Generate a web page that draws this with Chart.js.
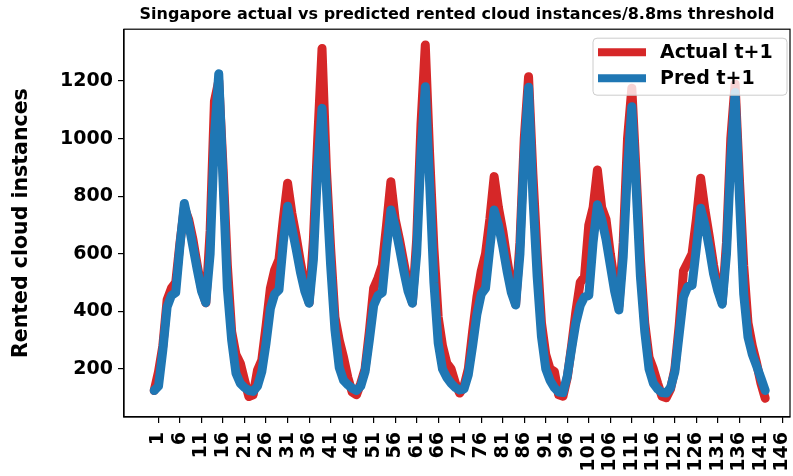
<!DOCTYPE html>
<html>
<head>
<meta charset="utf-8">
<script src="https://cdn.jsdelivr.net/npm/chart.js@4.4.1/dist/chart.umd.min.js"></script>
<style>
  html, body { margin: 0; padding: 0; background: #fff; }
  canvas { display: block; }
</style>
</head>
<body>
<canvas id="mychart" width="793" height="476"></canvas>
<script>
// hourly values, 143 steps (0..142)
const actual = [
    125, 190, 280, 440, 480, 500, 640, 760, 720, 650, 560, 480, 430, 680, 1130, 1200, 900, 560, 330, 250, 220, 160, 104, 110,
    195, 230, 350, 480, 544, 580, 720, 845, 740, 660, 570, 490, 430, 650, 1000, 1313, 900, 620, 380, 300, 240, 170, 120, 110,
    150, 200, 330, 480, 515, 560, 700, 850, 720, 650, 570, 490, 430, 650, 1050, 1325, 950, 620, 380, 280, 220, 200, 150, 116,
    140, 200, 330, 450, 540, 600, 720, 868, 760, 680, 580, 490, 425, 640, 1000, 1215, 880, 600, 360, 250, 200, 191, 110, 105,
    170, 280, 400, 500, 520, 700, 760, 891, 760, 720, 600, 500, 420, 640, 1000, 1175, 880, 580, 360, 240, 200, 150, 105, 100,
    130, 200, 350, 540, 570, 600, 720, 862, 752, 660, 560, 480, 430, 640, 1000, 1190, 860, 560, 360, 280, 220, 150, 98
];
const pred = [
    125, 140, 265, 415, 455, 465, 630, 775, 705, 625, 545, 470, 430, 600, 1010, 1225, 850, 480, 300, 185, 150, 135, 125, 122,
    140, 190, 290, 410, 460, 475, 640, 765, 690, 615, 535, 470, 428, 580, 900, 1105, 835, 560, 336, 205, 160, 145, 133, 125,
    140, 190, 300, 420, 455, 465, 620, 752, 695, 620, 540, 470, 428, 600, 950, 1180, 850, 500, 290, 200, 170, 150, 135, 127,
    130, 180, 280, 390, 460, 480, 620, 752, 700, 625, 540, 465, 422, 600, 950, 1178, 800, 520, 312, 200, 160, 135, 120, 118,
    175, 270, 360, 420, 450, 455, 640, 770, 720, 650, 560, 470, 405, 590, 900, 1111, 830, 520, 330, 200, 150, 130, 118, 116,
    135, 190, 320, 450, 486, 490, 620, 758, 700, 620, 530, 470, 425, 600, 930, 1160, 800, 460, 310, 250, 210, 168, 125
];
const xTickLabels = [1, 6, 11, 16, 21, 26, 31, 36, 41, 46, 51, 56, 61, 66, 71, 76, 81, 86, 91, 96,
    101, 106, 111, 116, 121, 126, 131, 136, 141, 146];
const yTickValues = [200, 400, 600, 800, 1000, 1200];

const ctx = document.getElementById('mychart');
Chart.defaults.font.family = "'DejaVu Sans', sans-serif";
Chart.defaults.color = '#000';

const toPoints = (arr) => arr.map((v, i) => ({ x: i, y: v }));

// top/right spines + legend box inside the plot, matplotlib style
const pluginFrameLegend = {
    id: 'frameLegend',
    afterDatasetsDraw: (chart) => {
        const c = chart.ctx;
        const a = chart.chartArea;
        c.save();
        c.strokeStyle = '#000';
        c.lineWidth = 1.2;
        c.strokeRect(a.left, a.top, a.right - a.left, a.bottom - a.top);
        c.restore();
    },
    afterDraw: (chart) => {
        const c = chart.ctx;
        const a = chart.chartArea;
        const boxW = 194, boxH = 57;
        const bx = a.right - 3 - boxW, by = a.top + 9;
        c.save();
        c.beginPath();
        c.roundRect(bx, by, boxW, boxH, 4);
        c.fillStyle = 'rgba(255,255,255,0.8)';
        c.fill();
        c.strokeStyle = '#cccccc';
        c.lineWidth = 1;
        c.stroke();
        c.font = "bold 19px 'DejaVu Sans'";
        c.textBaseline = 'middle';
        chart.data.datasets.forEach((ds, i) => {
            const y = by + 14 + i * 26;
            c.beginPath();
            c.moveTo(bx + 5, y);
            c.lineTo(bx + 53, y);
            c.strokeStyle = ds.borderColor;
            c.lineWidth = 8;
            c.lineCap = 'butt';
            c.stroke();
            c.fillStyle = '#000';
            c.fillText(ds.label, bx + 67, y + 1);
        });
        c.restore();
    }
};

var chart = new Chart(ctx, {
    type: 'line',
    data: {
        datasets: [{
            label: 'Actual t+1',
            data: toPoints(actual),
            borderColor: '#d62728',
            borderWidth: 9,
            order: 2
        }, {
            label: 'Pred t+1',
            data: toPoints(pred),
            borderColor: '#1f77b4',
            borderWidth: 9,
            order: 1
        }]
    },
    options: {
        responsive: false,
        animation: false,
        devicePixelRatio: 1,
        layout: { padding: { left: 0, right: 3, top: 0, bottom: 0 } },
        elements: {
            point: { radius: 0 },
            line: { tension: 0, borderJoinStyle: 'round', borderCapStyle: 'round', fill: false }
        },
        scales: {
            x: {
                type: 'linear',
                min: -7.02,
                max: 147.76,
                afterBuildTicks: (scale) => {
                    scale.ticks = xTickLabels.map(v => ({ value: v }));
                },
                afterFit: (scale) => {
                    scale.height = 59;
                    scale.paddingLeft = 0;
                    scale.paddingRight = 0;
                },
                ticks: {
                    autoSkip: false,
                    maxRotation: 90,
                    minRotation: 90,
                    padding: 9,
                    font: { size: 19, weight: 'bold' },
                    callback: (v) => String(v)
                },
                grid: { drawOnChartArea: false, drawTicks: true, tickLength: 6, color: '#000', lineWidth: 1.2 },
                border: { display: true, color: '#000', width: 1.2 }
            },
            y: {
                type: 'linear',
                min: 33,
                max: 1380,
                afterBuildTicks: (scale) => {
                    scale.ticks = yTickValues.map(v => ({ value: v }));
                },
                afterFit: (scale) => {
                    scale.width = 124;
                    scale.paddingTop = 0;
                    scale.paddingBottom = 0;
                },
                ticks: {
                    padding: 5,
                    font: { size: 19, weight: 'bold' },
                    callback: (v) => String(v)
                },
                grid: { drawOnChartArea: false, drawTicks: true, tickLength: 6, color: '#000', lineWidth: 1.2 },
                border: { display: true, color: '#000', width: 1.2 },
                title: {
                    display: true,
                    text: 'Rented cloud instances',
                    font: { size: 20.5, weight: 'bold' },
                    padding: { top: 9, bottom: 0 }
                }
            }
        },
        plugins: {
            legend: { display: false },
            tooltip: { enabled: false },
            title: {
                display: true,
                fullSize: false,
                text: 'Singapore actual vs predicted rented cloud instances/8.8ms threshold',
                font: { size: 16, weight: 'bold' },
                padding: { top: 5, bottom: 5 }
            }
        }
    },
    plugins: [pluginFrameLegend]
});
</script>
</body>
</html>
